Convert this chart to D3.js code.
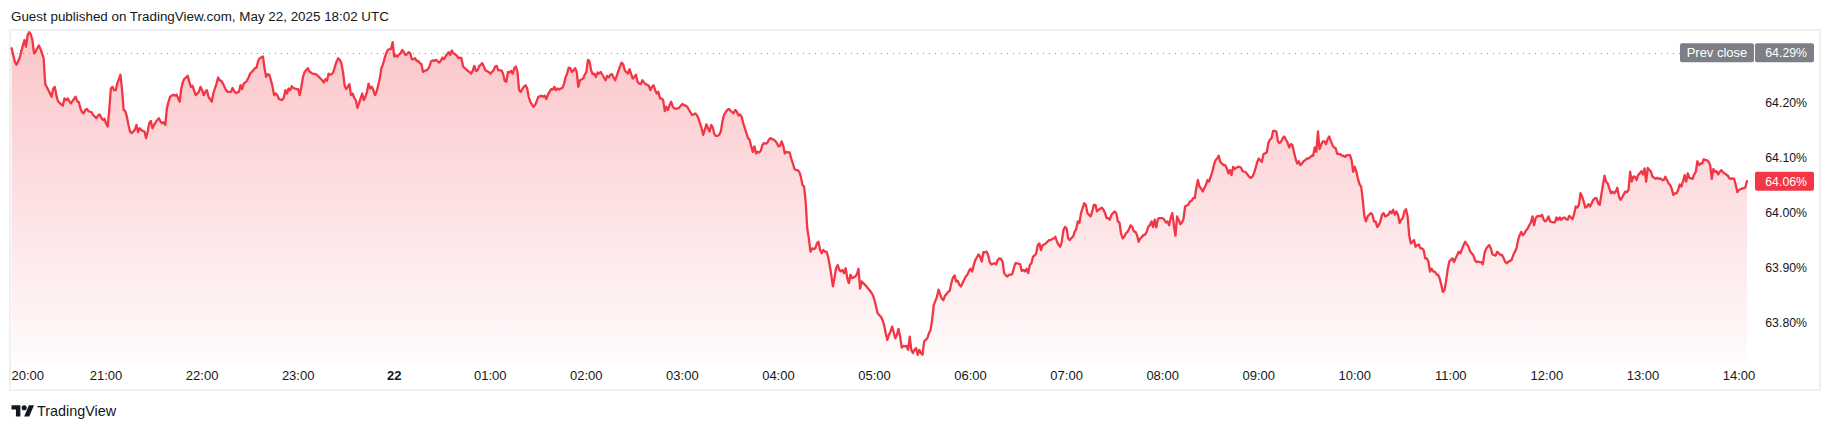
<!DOCTYPE html>
<html><head><meta charset="utf-8">
<script src="https://cdn.jsdelivr.net/npm/d3@7"></script>
<style>body{margin:0;background:#fff}svg{display:block}text{font-family:"Liberation Sans",Arial,sans-serif}</style>
</head><body><svg id="c" width="1831" height="430"></svg>
<script>
// [minutes since 20:00 (May 21), value %]
const series = [[1,64.298],[3,64.274],[4,64.268],[6,64.280],[7,64.292],[9,64.313],[10,64.301],[11,64.322],[12,64.327],[13,64.323],[14,64.313],[15,64.289],[16,64.292],[17,64.298],[18,64.303],[19,64.297],[20,64.289],[21,64.280],[22,64.233],[24,64.222],[25,64.216],[26,64.210],[27,64.225],[28,64.228],[29,64.212],[30,64.202],[32,64.196],[33,64.194],[34,64.207],[35,64.204],[36,64.207],[37,64.202],[38,64.198],[40,64.206],[41,64.210],[42,64.202],[43,64.200],[44,64.189],[45,64.182],[46,64.180],[47,64.186],[48,64.188],[49,64.184],[51,64.182],[52,64.177],[53,64.174],[54,64.171],[55,64.176],[56,64.178],[57,64.172],[58,64.168],[59,64.170],[60,64.162],[61,64.156],[62,64.186],[63,64.225],[64,64.228],[65,64.222],[66,64.222],[67,64.234],[69,64.250],[70,64.222],[71,64.186],[72,64.184],[73,64.174],[74,64.159],[75,64.147],[76,64.144],[77,64.147],[78,64.150],[79,64.159],[80,64.146],[81,64.153],[82,64.150],[83,64.148],[84,64.147],[85,64.135],[86,64.147],[87,64.162],[88,64.166],[89,64.153],[90,64.159],[92,64.168],[93,64.171],[94,64.165],[95,64.162],[96,64.164],[97,64.159],[98,64.189],[99,64.201],[100,64.210],[102,64.214],[103,64.212],[104,64.214],[105,64.208],[106,64.201],[107,64.225],[108,64.237],[109,64.243],[110,64.245],[111,64.248],[112,64.237],[113,64.228],[114,64.230],[116,64.213],[118,64.219],[119,64.228],[120,64.222],[121,64.213],[122,64.219],[123,64.222],[124,64.210],[126,64.201],[127,64.216],[129,64.234],[130,64.245],[131,64.240],[132,64.239],[133,64.234],[135,64.222],[136,64.219],[138,64.219],[139,64.226],[140,64.220],[141,64.217],[143,64.219],[144,64.231],[145,64.224],[146,64.234],[147,64.236],[148,64.239],[149,64.245],[150,64.252],[151,64.255],[152,64.258],[153,64.262],[154,64.263],[155,64.275],[156,64.280],[158,64.283],[159,64.262],[160,64.246],[161,64.251],[162,64.250],[163,64.240],[164,64.228],[165,64.213],[166,64.216],[167,64.213],[168,64.206],[170,64.204],[171,64.208],[172,64.222],[173,64.216],[174,64.225],[175,64.222],[176,64.229],[177,64.226],[179,64.224],[180,64.224],[181,64.213],[182,64.228],[183,64.246],[184,64.255],[186,64.262],[187,64.256],[188,64.254],[189,64.252],[191,64.251],[193,64.246],[195,64.240],[196,64.236],[197,64.242],[198,64.239],[199,64.252],[200,64.250],[201,64.251],[202,64.255],[203,64.265],[204,64.274],[205,64.280],[206,64.277],[207,64.271],[208,64.255],[209,64.231],[210,64.224],[211,64.228],[212,64.233],[213,64.213],[214,64.216],[215,64.208],[216,64.204],[217,64.190],[218,64.198],[219,64.207],[220,64.216],[221,64.204],[222,64.210],[223,64.219],[224,64.234],[225,64.225],[226,64.228],[227,64.222],[228,64.213],[229,64.219],[230,64.231],[231,64.243],[232,64.262],[233,64.269],[234,64.280],[235,64.289],[236,64.295],[237,64.296],[238,64.297],[239,64.309],[240,64.283],[241,64.285],[242,64.283],[243,64.287],[244,64.289],[245,64.295],[246,64.291],[247,64.286],[248,64.287],[249,64.291],[250,64.289],[251,64.278],[252,64.278],[253,64.280],[254,64.275],[255,64.275],[256,64.271],[257,64.269],[258,64.255],[259,64.257],[260,64.258],[261,64.260],[262,64.265],[263,64.274],[264,64.276],[265,64.275],[266,64.277],[267,64.275],[268,64.272],[269,64.275],[270,64.281],[271,64.278],[272,64.283],[273,64.287],[274,64.291],[275,64.286],[276,64.294],[277,64.289],[278,64.287],[279,64.285],[280,64.280],
[281,64.281],[282,64.280],[283,64.265],[284,64.262],[286,64.257],[287,64.255],[288,64.252],[289,64.257],[290,64.266],[291,64.257],[292,64.258],[293,64.265],[294,64.268],[295,64.271],[296,64.265],[297,64.258],[299,64.255],[300,64.252],[301,64.255],[302,64.258],[303,64.265],[304,64.266],[305,64.258],[307,64.258],[308,64.252],[309,64.239],[310,64.237],[311,64.255],[312,64.254],[313,64.257],[314,64.252],[315,64.262],[316,64.265],[317,64.255],[318,64.222],[319,64.219],[320,64.224],[321,64.228],[322,64.231],[323,64.226],[324,64.210],[325,64.201],[326,64.196],[327,64.192],[328,64.195],[329,64.202],[330,64.210],[332,64.212],[333,64.210],[334,64.212],[335,64.206],[336,64.214],[337,64.219],[338,64.224],[339,64.223],[340,64.228],[341,64.222],[342,64.225],[343,64.223],[344,64.225],[345,64.226],[346,64.233],[347,64.245],[348,64.252],[349,64.263],[350,64.262],[351,64.255],[352,64.258],[353,64.262],[354,64.255],[355,64.228],[356,64.240],[358,64.243],[359,64.250],[360,64.255],[361,64.277],[362,64.274],[363,64.258],[364,64.251],[365,64.252],[366,64.246],[367,64.254],[368,64.252],[369,64.255],[370,64.250],[371,64.245],[372,64.240],[373,64.248],[374,64.245],[375,64.250],[376,64.251],[377,64.245],[378,64.240],[379,64.248],[380,64.257],[382,64.272],[383,64.269],[384,64.258],[385,64.255],[386,64.252],[387,64.260],[388,64.251],[389,64.243],[390,64.246],[391,64.250],[392,64.237],[393,64.234],[394,64.233],[395,64.240],[396,64.236],[397,64.233],[399,64.230],[400,64.222],[401,64.228],[402,64.231],[403,64.222],[404,64.216],[405,64.219],[406,64.207],[407,64.207],[408,64.204],[409,64.184],[410,64.192],[411,64.186],[412,64.195],[413,64.201],[414,64.192],[415,64.189],[416,64.188],[417,64.189],[418,64.190],[419,64.194],[420,64.197],[421,64.195],[422,64.194],[423,64.192],[425,64.182],[426,64.177],[427,64.178],[428,64.180],[429,64.177],[430,64.171],[431,64.162],[432,64.153],[433,64.141],[434,64.150],[435,64.160],[436,64.153],[437,64.147],[438,64.159],[439,64.154],[440,64.142],[441,64.139],[442,64.139],[443,64.141],[444,64.147],[445,64.165],[446,64.177],[447,64.182],[448,64.186],[449,64.188],[451,64.182],[452,64.180],[453,64.186],[454,64.183],[455,64.176],[456,64.178],[457,64.174],[458,64.162],[459,64.153],[460,64.144],[461,64.135],[462,64.132],[463,64.120],[464,64.110],[465,64.120],[466,64.107],[467,64.110],[468,64.109],[469,64.112],[470,64.123],[471,64.126],[472,64.125],[473,64.126],[474,64.132],[475,64.135],[477,64.132],[478,64.130],[479,64.126],[480,64.120],[481,64.121],[482,64.129],[483,64.121],[484,64.107],[485,64.110],[486,64.109],[487,64.109],[488,64.098],[489,64.089],[490,64.079],[491,64.077],[492,64.077],[493,64.074],[494,64.065],[495,64.050],[496,64.047],[497,64.020],[498,63.971],[499,63.953],[500,63.929],[501,63.935],[502,63.934],[503,63.935],[504,63.944],[505,63.947],[506,63.932],[507,63.926],[508,63.932],[509,63.929],[510,63.929],[511,63.920],[512,63.905],[513,63.887],[514,63.866],[515,63.881],[516,63.899],[517,63.905],[518,63.896],[519,63.893],[520,63.896],[521,63.890],[522,63.899],[523,63.881],[524,63.872],[525,63.887],[526,63.881],[528,63.884],[529,63.888],[530,63.898],[531,63.862],[532,63.875],[533,63.872],[535,63.866],[536,63.862],[537,63.859],[538,63.855],[539,63.850],[540,63.841],[541,63.829],[542,63.817],[543,63.814],[544,63.811],[545,63.805],[546,63.796],[547,63.781],[548,63.769],[549,63.778],[550,63.784],[551,63.793],[553,63.772],[554,63.778],[555,63.789],[556,63.775],[557,63.755],[558,63.758],[559,63.757],[560,63.758],[561,63.751],
[562,63.775],[563,63.751],[564,63.745],[565,63.751],[566,63.754],[567,63.742],[568,63.751],[569,63.745],[570,63.742],[571,63.766],[572,63.769],[573,63.772],[574,63.781],[575,63.787],[576,63.805],[577,63.832],[579,63.847],[580,63.860],[581,63.852],[582,63.844],[583,63.841],[584,63.849],[585,63.852],[586,63.856],[587,63.858],[588,63.872],[589,63.882],[590,63.886],[591,63.875],[592,63.876],[593,63.869],[594,63.866],[595,63.872],[596,63.878],[597,63.884],[598,63.887],[599,63.894],[600,63.898],[601,63.893],[602,63.905],[603,63.914],[605,63.924],[606,63.920],[607,63.911],[608,63.928],[609,63.928],[610,63.929],[611,63.923],[612,63.910],[613,63.906],[615,63.908],[616,63.906],[617,63.914],[618,63.917],[619,63.916],[620,63.911],[621,63.890],[622,63.886],[623,63.884],[624,63.887],[626,63.888],[627,63.899],[628,63.908],[629,63.908],[631,63.906],[632,63.894],[633,63.896],[634,63.893],[635,63.898],[636,63.890],[637,63.905],[638,63.908],[639,63.920],[640,63.922],[641,63.926],[642,63.941],[643,63.944],[644,63.932],[645,63.941],[646,63.942],[647,63.944],[648,63.947],[649,63.950],[650,63.950],[651,63.952],[652,63.953],[653,63.956],[654,63.947],[655,63.941],[656,63.938],[657,63.947],[658,63.968],[659,63.974],[660,63.971],[661,63.953],[662,63.950],[663,63.954],[664,63.956],[665,63.965],[666,63.970],[667,63.984],[668,63.981],[669,63.999],[670,64.008],[671,64.017],[672,64.014],[673,63.999],[674,63.996],[675,63.993],[676,64.002],[677,64.014],[678,64.014],[679,64.002],[680,64.005],[682,64.009],[683,64.005],[684,63.999],[685,63.990],[686,63.990],[687,63.987],[688,63.996],[689,63.999],[690,64.002],[691,63.999],[692,63.984],[693,63.982],[694,63.962],[695,63.953],[696,63.956],[697,63.962],[698,63.965],[699,63.970],[700,63.977],[701,63.974],[702,63.966],[703,63.965],[704,63.959],[705,63.947],[706,63.953],[708,63.959],[709,63.960],[710,63.965],[711,63.974],[712,63.977],[713,63.984],[714,63.974],[715,63.987],[716,63.973],[717,63.988],[718,63.990],[720,63.990],[721,63.987],[722,63.982],[723,63.984],[724,63.977],[725,63.990],[726,63.999],[727,63.977],[728,63.958],[729,63.993],[730,63.987],[731,63.979],[732,63.982],[733,63.988],[734,64.011],[736,64.014],[737,64.020],[738,64.021],[739,64.026],[740,64.026],[741,64.044],[742,64.059],[743,64.047],[744,64.044],[745,64.038],[746,64.044],[747,64.050],[748,64.059],[749,64.056],[750,64.065],[751,64.074],[752,64.086],[753,64.095],[754,64.098],[755,64.103],[756,64.092],[757,64.089],[758,64.086],[759,64.086],[760,64.081],[761,64.071],[762,64.077],[763,64.068],[764,64.083],[765,64.079],[766,64.081],[767,64.083],[768,64.083],[769,64.081],[770,64.075],[771,64.074],[772,64.073],[774,64.065],[775,64.063],[776,64.065],[777,64.071],[778,64.080],[779,64.091],[780,64.098],[781,64.095],[782,64.092],[783,64.106],[785,64.109],[786,64.126],[787,64.132],[788,64.135],[789,64.148],[790,64.148],[791,64.147],[792,64.129],[793,64.126],[794,64.129],[795,64.135],[796,64.138],[797,64.132],[798,64.127],[799,64.118],[800,64.124],[801,64.123],[802,64.110],[803,64.098],[804,64.089],[805,64.093],[806,64.086],[807,64.089],[808,64.093],[809,64.095],[810,64.098],[811,64.098],[812,64.100],[813,64.103],[814,64.103],[815,64.118],[816,64.110],[817,64.147],[818,64.115],[819,64.123],[820,64.129],[821,64.129],[822,64.124],[823,64.133],[824,64.138],[825,64.130],[826,64.123],[827,64.118],[828,64.117],[829,64.107],[830,64.106],[831,64.106],[832,64.103],[833,64.103],[834,64.101],[835,64.104],[837,64.104],[838,64.095],[839,64.074],[840,64.083],[841,64.074],[842,64.061],[843,64.051],[844,64.047],[845,64.023],
[846,63.993],[847,63.984],[848,63.993],[849,63.996],[850,63.999],[851,63.996],[852,63.984],[853,63.984],[854,63.974],[855,63.977],[856,63.984],[857,63.996],[858,63.999],[859,63.993],[861,63.996],[862,64.002],[863,63.999],[864,64.005],[865,63.996],[866,64.002],[867,63.996],[868,63.981],[869,63.987],[870,63.990],[871,64.002],[872,64.006],[873,63.993],[874,63.959],[875,63.944],[876,63.947],[877,63.950],[878,63.938],[879,63.941],[880,63.942],[881,63.935],[882,63.935],[883,63.932],[884,63.917],[885,63.917],[886,63.911],[887,63.893],[888,63.898],[889,63.893],[890,63.893],[891,63.888],[892,63.887],[893,63.881],[894,63.869],[895,63.856],[896,63.859],[897,63.875],[898,63.896],[899,63.911],[900,63.914],[901,63.917],[902,63.910],[903,63.917],[904,63.923],[905,63.929],[906,63.926],[907,63.934],[908,63.941],[909,63.947],[911,63.938],[912,63.930],[913,63.926],[914,63.923],[915,63.914],[916,63.910],[917,63.911],[918,63.910],[919,63.910],[920,63.906],[921,63.926],[922,63.934],[923,63.938],[924,63.941],[925,63.935],[926,63.924],[927,63.923],[928,63.922],[929,63.929],[930,63.926],[931,63.923],[932,63.923],[933,63.917],[934,63.910],[935,63.908],[936,63.911],[938,63.914],[939,63.923],[940,63.929],[941,63.935],[942,63.950],[943,63.959],[944,63.965],[945,63.959],[946,63.962],[947,63.968],[948,63.971],[949,63.977],[950,63.982],[951,63.993],[952,63.977],[953,63.990],[954,63.993],[955,63.994],[956,63.993],[957,63.996],[958,63.987],[959,63.984],[960,63.987],[961,63.993],[962,63.984],[964,63.982],[965,63.982],[966,63.991],[967,63.987],[968,63.991],[969,63.987],[970,63.990],[971,63.991],[972,63.988],[973,63.987],[974,63.994],[975,63.991],[976,63.988],[977,63.997],[978,64.011],[979,64.009],[980,64.014],[981,64.035],[982,64.029],[983,64.020],[984,64.009],[985,64.011],[986,64.015],[987,64.011],[989,64.023],[990,64.026],[991,64.026],[992,64.017],[993,64.014],[994,64.032],[995,64.050],[996,64.067],[997,64.056],[998,64.053],[999,64.044],[1000,64.035],[1001,64.038],[1002,64.035],[1003,64.038],[1004,64.045],[1005,64.029],[1006,64.023],[1007,64.027],[1008,64.033],[1009,64.038],[1010,64.037],[1011,64.041],[1012,64.074],[1013,64.056],[1014,64.065],[1015,64.065],[1016,64.059],[1017,64.068],[1018,64.071],[1019,64.075],[1020,64.069],[1021,64.080],[1022,64.056],[1023,64.081],[1025,64.074],[1026,64.065],[1027,64.063],[1028,64.061],[1029,64.063],[1030,64.061],[1031,64.062],[1032,64.059],[1033,64.059],[1034,64.065],[1035,64.059],[1036,64.053],[1037,64.050],[1038,64.043],[1039,64.032],[1040,64.035],[1041,64.035],[1042,64.041],[1043,64.051],[1044,64.047],[1045,64.056],[1046,64.068],[1047,64.056],[1048,64.071],[1049,64.063],[1051,64.061],[1052,64.069],[1053,64.074],[1054,64.093],[1055,64.086],[1056,64.089],[1057,64.089],[1058,64.097],[1059,64.095],[1060,64.095],[1061,64.092],[1062,64.086],[1063,64.061],[1064,64.079],[1065,64.074],[1066,64.075],[1067,64.069],[1068,64.074],[1069,64.077],[1070,64.073],[1071,64.071],[1072,64.069],[1073,64.067],[1074,64.062],[1075,64.061],[1076,64.062],[1077,64.061],[1078,64.050],[1079,64.037],[1080,64.041],[1082,64.044],[1083,64.044],[1084,64.046],[1085,64.057]];

const priceTicks = [63.80, 63.90, 64.00, 64.10, 64.20];
const timeLabels = ["20:00","21:00","22:00","23:00","22","01:00","02:00","03:00","04:00","05:00","06:00","07:00","08:00","09:00","10:00","11:00","12:00","13:00","14:00"];
const boldLabels = ["22"];
const prevClose = 64.29;
const headerText = "Guest published on TradingView.com, May 22, 2025 18:02 UTC";
const brandText = "TradingView";
const prevCloseText = "Prev close";

const t0 = new Date(2025, 4, 21, 20, 0, 0);
const toDate = m => new Date(t0.getTime() + m * 60000);
const data = series.map(([m, v]) => ({ t: toDate(m), v }));

const svg = d3.select("#c");
const pane = { l: 10, t: 30, r: 1820, b: 390 };
const plotBottom = 362;

const x = d3.scaleTime().domain([t0, toDate(18 * 60)]).range([10, 1739]);
const y = d3.scaleLinear().domain([63.8, 64.2]).range([322.8, 102.3]);

const red = "#F23645";
const defs = svg.append("defs");
const grad = defs.append("linearGradient").attr("id", "fillGrad")
  .attr("gradientUnits", "userSpaceOnUse").attr("x1", 0).attr("x2", 0).attr("y1", 31).attr("y2", plotBottom);
grad.append("stop").attr("offset", "0%").attr("stop-color", red).attr("stop-opacity", 0.29);
grad.append("stop").attr("offset", "100%").attr("stop-color", red).attr("stop-opacity", 0.02);

// header
svg.append("text").attr("x", 11).attr("y", 21).attr("font-size", "13.4px").attr("fill", "#131722").text(headerText);

// pane border
svg.append("rect").attr("x", pane.l).attr("y", pane.t).attr("width", pane.r - pane.l).attr("height", pane.b - pane.t)
  .attr("fill", "none").attr("stroke", "#eef0f3").attr("stroke-width", 2);

// area + line
svg.append("path").datum(data).attr("fill", "url(#fillGrad)")
  .attr("d", d3.area().x(d => x(d.t)).y0(plotBottom).y1(d => y(d.v)));

// prev close dotted line
const yPrev = y(prevClose);
svg.append("line").attr("x1", pane.l + 1).attr("x2", 1680).attr("y1", Math.round(yPrev) + 0.5).attr("y2", Math.round(yPrev) + 0.5)
  .attr("stroke", "#8f929b").attr("stroke-width", 1).attr("stroke-dasharray", "1,5");

svg.append("path").datum(data).attr("fill", "none").attr("stroke", red).attr("stroke-width", 2.3)
  .attr("stroke-linejoin", "round").attr("stroke-linecap", "round")
  .attr("d", d3.line().x(d => x(d.t)).y(d => y(d.v)));

// price axis labels
const fmt = v => v.toFixed(2) + "%";
svg.append("g").selectAll("text").data(priceTicks).join("text")
  .attr("x", 1807).attr("y", d => y(d)).attr("dy", "0.36em").attr("text-anchor", "end")
  .attr("font-size", "12.3px").attr("fill", "#131722").text(fmt);

// prev close label
const gray = "#7d7f86";
svg.append("rect").attr("x", 1680).attr("y", yPrev - 9.5).attr("width", 74).attr("height", 19).attr("rx", 2).attr("fill", gray);
svg.append("rect").attr("x", 1755).attr("y", yPrev - 9.5).attr("width", 59).attr("height", 19).attr("rx", 2).attr("fill", gray);
svg.append("text").attr("x", 1717).attr("y", yPrev).attr("dy", "0.36em").attr("text-anchor", "middle")
  .attr("font-size", "13px").attr("fill", "#fff").text(prevCloseText);
svg.append("text").attr("x", 1807).attr("y", yPrev).attr("dy", "0.36em").attr("text-anchor", "end")
  .attr("font-size", "12.3px").attr("fill", "#fff").text(fmt(prevClose));

// last value label
const last = data[data.length - 1];
const yLast = y(last.v);
svg.append("rect").attr("x", 1755).attr("y", yLast - 9.5).attr("width", 59).attr("height", 19).attr("rx", 2).attr("fill", red);
svg.append("text").attr("x", 1807).attr("y", yLast).attr("dy", "0.36em").attr("text-anchor", "end")
  .attr("font-size", "12.3px").attr("fill", "#fff").text(fmt(last.v));

// time axis labels
const hours = d3.timeHour.range(t0, toDate(18 * 60 + 1));
const tg = svg.append("g");
hours.forEach((h, i) => {
  const lbl = timeLabels[i];
  const t = tg.append("text").attr("y", 379.5).attr("font-size", "13px").attr("fill", "#131722")
    .attr("font-weight", boldLabels.includes(lbl) ? "bold" : "normal").attr("text-anchor", "middle").text(lbl);
  const w = t.node().getComputedTextLength();
  t.attr("x", Math.max(x(h), pane.l + w / 2 + 1.5));
});

// brand
const logo = svg.append("g").attr("transform", "translate(11.5,402.6) scale(0.634)").attr("fill", "#131722");
logo.append("path").attr("d", "M14 22H7V11H0V4h14v18zM28 22h-8l7.5-18h8L28 22z");
logo.append("circle").attr("cx", 20).attr("cy", 8).attr("r", 4);
svg.append("text").attr("x", 37).attr("y", 416).attr("font-size", "14.4px").attr("fill", "#131722").text(brandText);
</script>
</body></html>
